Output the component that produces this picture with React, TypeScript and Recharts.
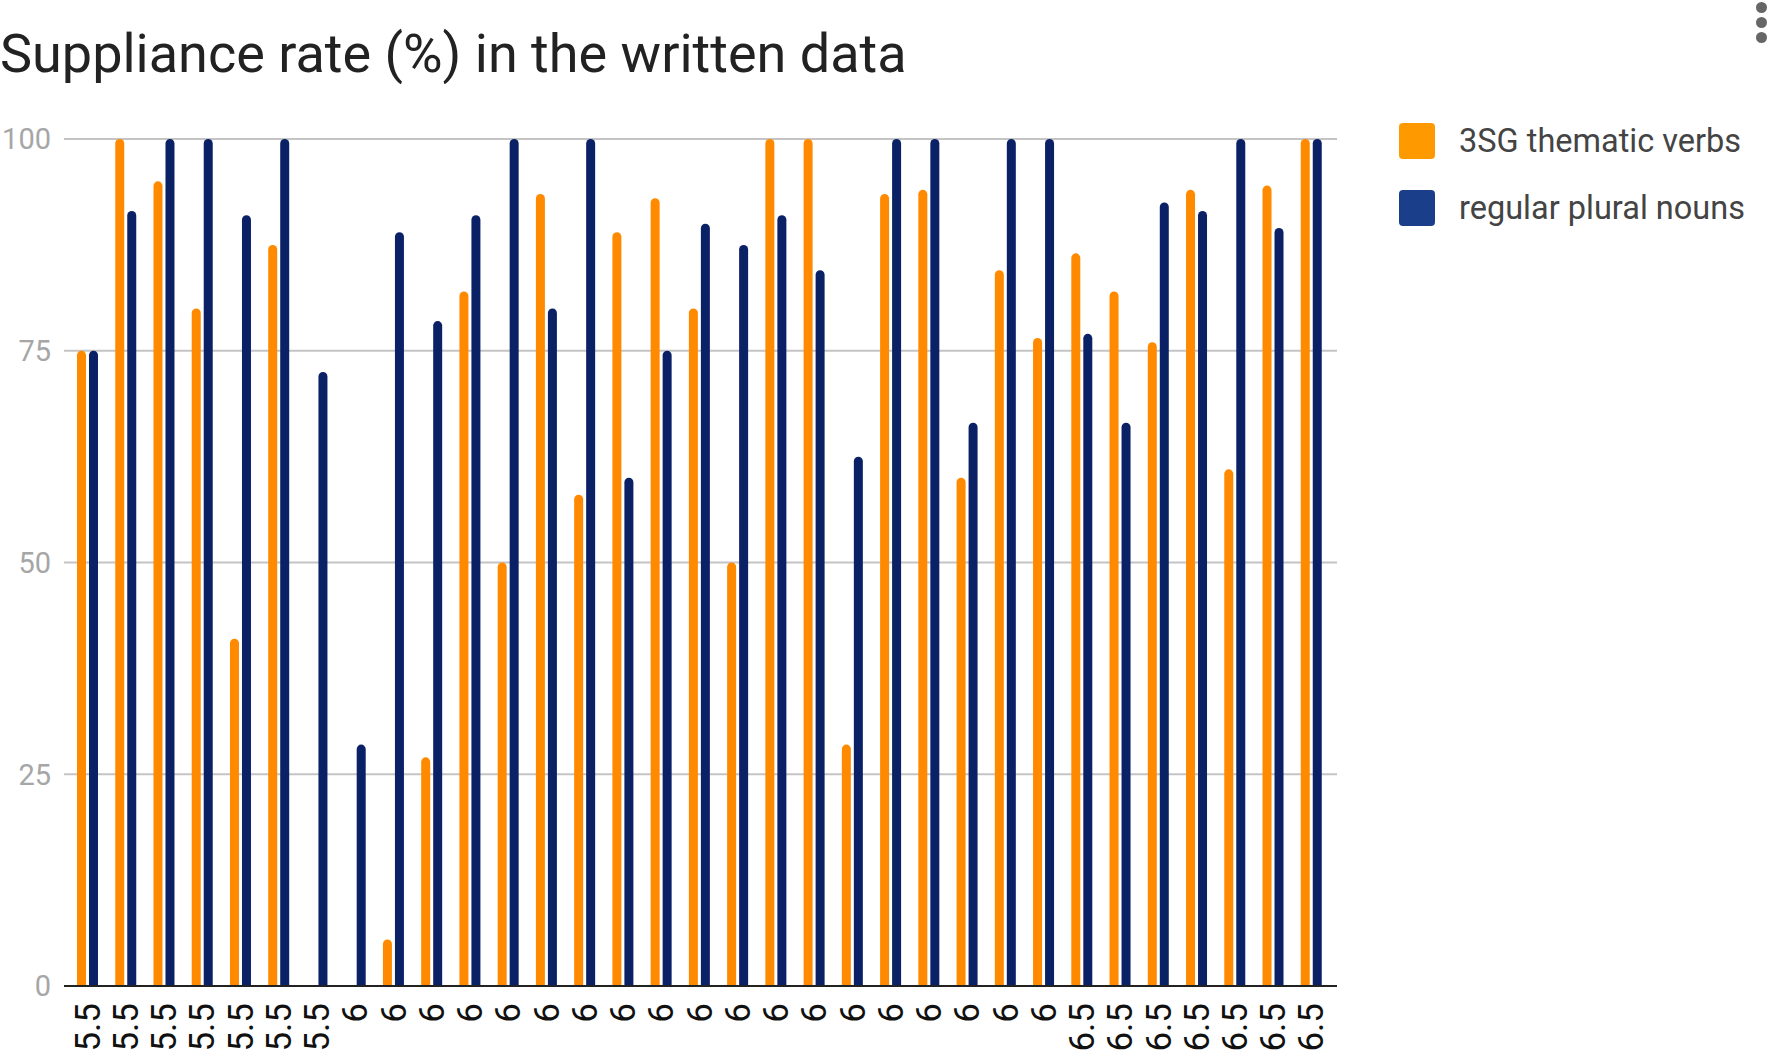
import React from 'react';
import { BarChart, Bar, XAxis, YAxis, CartesianGrid } from 'recharts';

// Age group of each learner (x-axis tick labels)
const categories = [
  '5.5', '5.5', '5.5', '5.5', '5.5', '5.5', '5.5',
  '6', '6', '6', '6', '6', '6', '6', '6', '6', '6',
  '6', '6', '6', '6', '6', '6', '6', '6', '6',
  '6.5', '6.5', '6.5', '6.5', '6.5', '6.5', '6.5',
];

// Suppliance rate (%) per learner
const thematicVerbs = [
  75, 100, 95, 80, 41, 87.5, null,
  null, 5.5, 27, 82, 50, 93.5, 58, 89, 93, 80,
  50, 100, 100, 28.5, 93.5, 94, 60, 84.5, 76.5,
  86.5, 82, 76, 94, 61, 94.5, 100,
];

const pluralNouns = [
  75, 91.5, 100, 100, 91, 100, 72.5,
  28.5, 89, 78.5, 91, 100, 80, 100, 60, 75, 90,
  87.5, 91, 84.5, 62.5, 100, 100, 66.5, 100, 100,
  77, 66.5, 92.5, 91.5, 100, 89.5, 100,
];

const yTicks = [0, 25, 50, 75, 100];

const ORANGE = '#ff8a00';
const NAVY = '#0b2166';

const data = categories.map((age, i) => ({
  age,
  verbs: thematicVerbs[i],
  nouns: pluralNouns[i],
}));

const FONT = 'Roboto, "Noto Sans", sans-serif';

const AgeTick = ({ x, y, payload }: any) => (
  <g transform={`translate(${x},${y})`}>
    <text
      transform="rotate(-90)"
      x={-9}
      dy="0.36em"
      textAnchor="end"
      fill="#111"
      fontSize={35}
      fontFamily={FONT}
    >
      {payload.value}
    </text>
  </g>
);

const legendItems = [
  { label: '3SG thematic verbs', color: '#ff9900' },
  { label: 'regular plural nouns', color: '#1a3e8a' },
];

export default function App() {
  return (
    <div
      style={{
        position: 'absolute',
        left: 0,
        top: 0,
        width: 1772,
        height: 1058,
        background: '#fff',
        fontFamily: FONT,
        overflow: 'hidden',
      }}
    >
      {/* Title */}
      <div
        style={{
          position: 'absolute',
          left: 0,
          top: 22,
          fontSize: 54,
          lineHeight: '64px',
          color: '#222',
          whiteSpace: 'nowrap',
        }}
      >
        Suppliance rate (%) in the written data
      </div>

      {/* menu dots top right */}
      <div style={{ position: 'absolute', left: 1756, top: 2 }}>
        {[0, 1, 2].map((d) => (
          <div
            key={d}
            style={{
              width: 11,
              height: 11,
              borderRadius: '50%',
              background: '#666',
              marginBottom: 4,
            }}
          />
        ))}
      </div>

      {/* Legend */}
      <div style={{ position: 'absolute', left: 1399, top: 123 }}>
        {legendItems.map((item) => (
          <div
            key={item.label}
            style={{ display: 'flex', alignItems: 'center', height: 36, marginBottom: 31 }}
          >
            <div
              style={{
                width: 36,
                height: 36,
                borderRadius: 4,
                background: item.color,
                marginRight: 24,
              }}
            />
            <span style={{ fontSize: 32.5, color: '#444', whiteSpace: 'nowrap' }}>{item.label}</span>
          </div>
        ))}
      </div>

      <div style={{ position: 'absolute', left: 0, top: 0 }}>
        <BarChart
          width={1337}
          height={1058}
          data={data}
          margin={{ top: 139, right: 0, bottom: 0, left: 0 }}
          barSize={9}
          barGap={3}
        >
          <CartesianGrid vertical={false} stroke="#c4c4c4" strokeWidth={2} />
          <XAxis
            dataKey="age"
            interval={0}
            height={72}
            padding={{ left: 4, right: 7 }}
            tickLine={false}
            axisLine={{ stroke: '#222', strokeWidth: 2 }}
            tick={<AgeTick />}
          />
          <YAxis
            width={64}
            domain={[0, 100]}
            ticks={yTicks}
            axisLine={false}
            tickLine={false}
            tickSize={0}
            tickMargin={13}
            tick={{ fill: '#a6a6a6', fontSize: 29, fontFamily: FONT }}
          />
          <Bar
            dataKey="verbs"
            fill={ORANGE}
            radius={[5, 5, 0, 0]}
            isAnimationActive={false}
          />
          <Bar
            dataKey="nouns"
            fill={NAVY}
            radius={[5, 5, 0, 0]}
            isAnimationActive={false}
          />
        </BarChart>
      </div>
    </div>
  );
}
